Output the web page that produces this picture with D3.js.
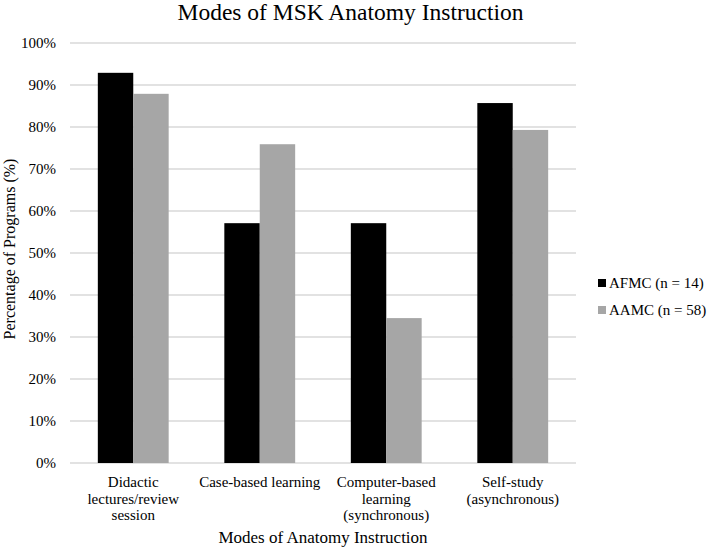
<!DOCTYPE html>
<html>
<head>
<meta charset="utf-8">
<script src="https://cdn.jsdelivr.net/npm/d3@7"></script>
<style>
  body { margin: 0; background: #fff; }
  text { font-family: "Liberation Serif", "Times New Roman", serif; }
</style>
</head>
<body>
<div id="chart"></div>
<script>
// chart data
const categories = [
    ["Didactic", "lectures/review", "session"],
    ["Case-based learning"],
    ["Computer-based", "learning", "(synchronous)"],
    ["Self-study", "(asynchronous)"]
];
const seriesNames = ["AFMC (n = 14)", "AAMC (n = 58)"];
const afmcValues = [92.9, 57.1, 57.1, 85.7];
const aamcValues = [87.9, 75.9, 34.5, 79.3];
const yTicks = [0, 10, 20, 30, 40, 50, 60, 70, 80, 90, 100];
const colors = ["#000000", "#a6a6a6"];

function drawBarChart() {
    const width = 709,
          height = 548;
    const margin = { top: 43, right: 133, bottom: 85, left: 70 };
    const innerW = width - margin.left - margin.right,
          innerH = height - margin.top - margin.bottom;

    const svg = d3.select("#chart").append("svg")
        .attr("width", width)
        .attr("height", height);

    const g = svg.append("g")
        .attr("transform", `translate(${margin.left}, ${margin.top})`);

    const x0 = d3.scaleBand()
        .domain(d3.range(categories.length))
        .range([0, innerW])
        .paddingInner(0.44)
        .paddingOuter(0.22);

    const x1 = d3.scaleBand()
        .domain(d3.range(seriesNames.length))
        .range([0, x0.bandwidth()]);

    const y = d3.scaleLinear()
        .domain([0, 100])
        .range([innerH, 0]);

    // gridlines
    g.selectAll(".grid")
        .data(yTicks)
        .enter()
        .append("line")
        .attr("x1", 0)
        .attr("x2", innerW)
        .attr("y1", d => y(d))
        .attr("y2", d => y(d))
        .attr("stroke", "#d9d9d9")
        .attr("stroke-width", 1.5);

    // y tick labels
    g.selectAll(".ytick")
        .data(yTicks)
        .enter()
        .append("text")
        .attr("x", -14)
        .attr("y", d => y(d))
        .attr("dy", "0.35em")
        .attr("text-anchor", "end")
        .style("font-size", "15px")
        .text(d => d + "%");

    // bars
    const seriesData = [afmcValues, aamcValues];
    const groups = g.selectAll(".group")
        .data(categories)
        .enter()
        .append("g")
        .attr("transform", (d, i) => `translate(${x0(i)}, 0)`);

    groups.selectAll("rect")
        .data((d, i) => seriesData.map((s, j) => ({ s: j, v: s[i] })))
        .enter()
        .append("rect")
        .attr("x", d => x1(d.s))
        .attr("width", x1.bandwidth())
        .attr("y", d => y(d.v))
        .attr("height", d => innerH - y(d.v))
        .attr("fill", d => colors[d.s]);

    // category labels
    const catLabels = g.selectAll(".cat")
        .data(categories)
        .enter()
        .append("text")
        .attr("text-anchor", "middle")
        .attr("transform", (d, i) => `translate(${x0(i) + x0.bandwidth() / 2}, ${innerH + 24})`)
        .style("font-size", "15px");

    catLabels.selectAll("tspan")
        .data(d => d)
        .enter()
        .append("tspan")
        .attr("x", 0)
        .attr("dy", (d, i) => i === 0 ? 0 : 16.7)
        .text(d => d);

    // axis titles
    g.append("text")
        .attr("x", innerW / 2)
        .attr("y", innerH + 80)
        .attr("text-anchor", "middle")
        .style("font-size", "17px")
        .text("Modes of Anatomy Instruction");

    svg.append("text")
        .attr("transform", `translate(15, ${margin.top + innerH / 2 - 4}) rotate(-90)`)
        .attr("text-anchor", "middle")
        .style("font-size", "16px")
        .text("Percentage of Programs (%)");

    // chart title
    svg.append("text")
        .attr("x", width / 2 - 4)
        .attr("y", 20)
        .attr("text-anchor", "middle")
        .style("font-size", "23.5px")
        .text("Modes of MSK Anatomy Instruction");

    // legend
    const legend = svg.selectAll(".legend")
        .data(seriesNames)
        .enter()
        .append("g")
        .attr("transform", (d, i) => `translate(598, ${283 + i * 27})`);

    legend.append("rect")
        .attr("x", 0)
        .attr("y", -4)
        .attr("width", 8)
        .attr("height", 8)
        .attr("fill", (d, i) => colors[i]);

    legend.append("text")
        .attr("x", 11)
        .attr("y", 0)
        .attr("dy", "0.35em")
        .style("font-size", "15px")
        .text(d => d);
}

drawBarChart();
</script>
</body>
</html>
